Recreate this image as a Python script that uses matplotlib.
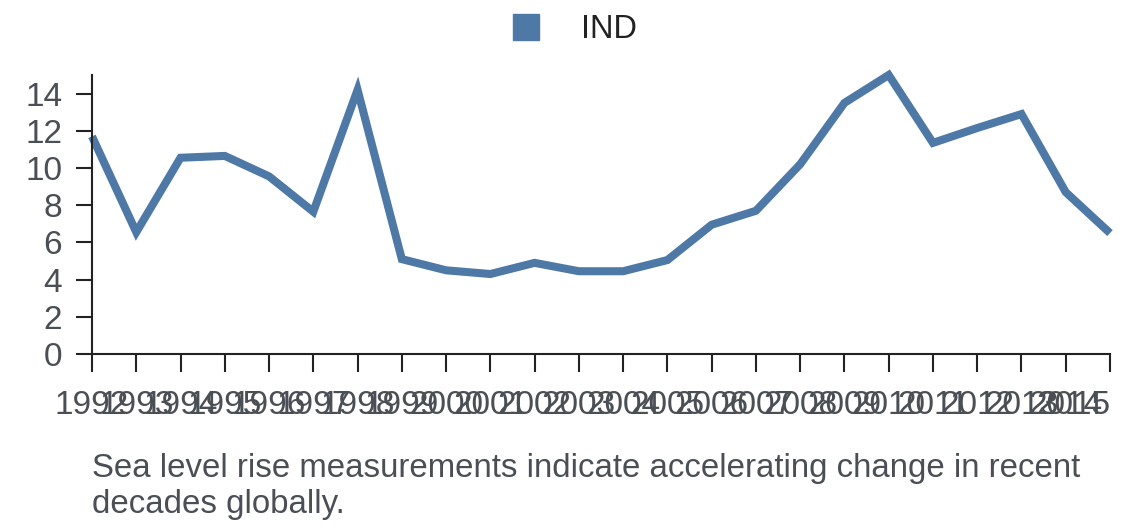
import matplotlib
matplotlib.use("Agg")
import matplotlib.pyplot as plt
from matplotlib.lines import Line2D

# data
years = [1992, 1993, 1994, 1995, 1996, 1997, 1998, 1999, 2000, 2001, 2002, 2003,
         2004, 2005, 2006, 2007, 2008, 2009, 2010, 2011, 2012, 2013, 2014, 2015]
ind = [11.7, 6.55, 10.55, 10.65, 9.55, 7.65, 14.2, 5.1, 4.5, 4.3, 4.9, 4.45,
       4.45, 5.05, 6.95, 7.7, 10.2, 13.5, 15.0, 11.35, 12.15, 12.9, 8.7, 6.5]
series_name = "IND"
caption = "Sea level rise measurements indicate accelerating change in recent\ndecades globally."

line_color = "#4e79a7"
axis_color = "#222222"
text_color = "#4a4f55"

plt.rcParams['font.family'] = ['Liberation Sans', 'DejaVu Sans']

fig = plt.figure(figsize=(11.4, 5.28), dpi=100)
ax = fig.add_axes([92 / 1140, 1 - 354 / 528, (1110 - 92) / 1140, (354 - 75) / 528])

xs = list(range(len(years)))
ax.plot(xs, ind, color=line_color, linewidth=5.8, solid_joinstyle='miter',
        solid_capstyle='butt', clip_on=False)

ax.set_xlim(0, len(years) - 1)
ax.set_ylim(0, max(ind))
ax.set_yticks(range(0, 15, 2))
ax.set_xticks(xs)
ax.set_xticklabels([str(y) for y in years])

for s in ['top', 'right']:
    ax.spines[s].set_visible(False)
for s in ['left', 'bottom']:
    ax.spines[s].set_color(axis_color)
    ax.spines[s].set_linewidth(1.5)

ax.tick_params(axis='y', length=11.5, width=1.5, color=axis_color, pad=10,
               labelsize=24, labelcolor=text_color)
ax.tick_params(axis='x', length=13, width=1.5, color=axis_color, pad=13,
               labelsize=24, labelcolor=text_color)
# last label sits right-aligned at the axis end
ax.get_xticklabels()[-1].set_horizontalalignment('right')

handle = Line2D([], [], linestyle='none', marker='s', markersize=19,
                markerfacecolor=line_color, markeredgecolor=line_color)
fig.legend([handle], [series_name], loc='center', bbox_to_anchor=(0.503, 1 - 30 / 528),
           frameon=False, fontsize=23.5, handletextpad=1.2, handlelength=1.0,
           labelcolor='#222222')

fig.text(92 / 1140, 1 - 453 / 528, caption, ha='left', va='top', fontsize=23.8,
         color=text_color, linespacing=1.2)

fig.savefig("out.png", dpi=100)
